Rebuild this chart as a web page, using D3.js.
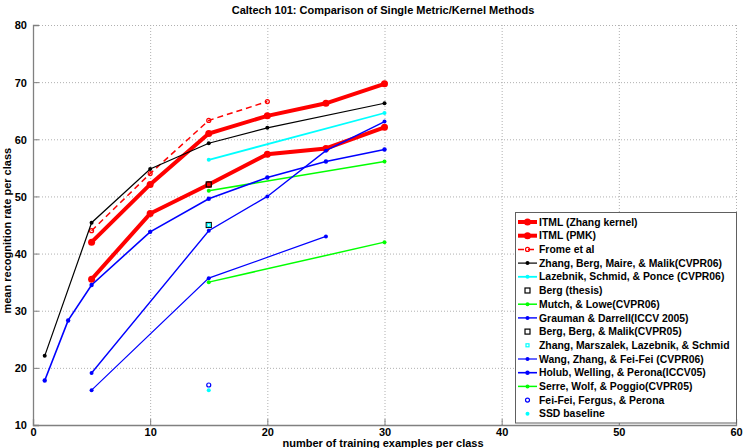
<!DOCTYPE html>
<html>
<head>
<meta charset="utf-8">
<script src="https://cdn.jsdelivr.net/npm/d3@7"></script>
<style>
  body { margin: 0; background: #fff; }
  text { font-family: "Liberation Sans", Arial, sans-serif; font-weight: bold; }
</style>
</head>
<body>
<div id="app"></div>
<script>
// data
let xTicks = [0, 10, 20, 30, 40, 50, 60]
let yTicks = [10, 20, 30, 40, 50, 60, 70, 80]

let itmlZhangX = [5, 10, 15, 20, 25, 30]
let itmlZhangY = [42, 52.1, 61, 64.1, 66.3, 69.7]
let itmlPmkX = [5, 10, 15, 20, 25, 30]
let itmlPmkY = [35.5, 47, 52.1, 57.4, 58.4, 62.1]
let fromeX = [5, 10, 15, 20]
let fromeY = [44, 54, 63.3, 66.6]
let zhangBergX = [1, 5, 10, 15, 20, 30]
let zhangBergY = [22.1, 45.4, 54.8, 59.3, 62.0, 66.3]
let lazebnikX = [15, 30]
let lazebnikY = [56.4, 64.6]
let bergThesisX = [15]
let bergThesisY = [45]
let mutchX = [15, 30]
let mutchY = [51, 56.1]
let graumanX = [5, 15, 20, 25, 30]
let graumanY = [19.1, 44, 50, 58, 63.1]
let bergBergX = [15]
let bergBergY = [52.1]
let zhangMarsX = [15]
let zhangMarsY = [45]
let wangX = [5, 15, 25]
let wangY = [16.1, 35.7, 43]
let holubX = [1, 3, 5, 10, 15, 20, 25, 30]
let holubY = [17.8, 28.3, 34.5, 43.8, 49.6, 53.3, 56.1, 58.2]
let serreX = [15, 30]
let serreY = [35, 42]
let feifeiX = [15]
let feifeiY = [17]
let ssdX = [15]
let ssdY = [16.1]

let series = [
  {name: "ITML (Zhang kernel)", x: itmlZhangX, y: itmlZhangY, color: "#ff0000", w: 4, marker: "circle", r: 3.5},
  {name: "ITML (PMK)", x: itmlPmkX, y: itmlPmkY, color: "#ff0000", w: 4, marker: "circle", r: 3.5},
  {name: "Frome et al", x: fromeX, y: fromeY, color: "#ff0000", w: 1.5, dash: "6,4", marker: "ocircle", r: 2},
  {name: "Zhang, Berg, Maire, & Malik(CVPR06)", x: zhangBergX, y: zhangBergY, color: "#000000", w: 1.2, marker: "dot", r: 2},
  {name: "Lazebnik, Schmid, & Ponce (CVPR06)", x: lazebnikX, y: lazebnikY, color: "#00ffff", w: 1.8, marker: "dot", r: 2},
  {name: "Berg (thesis)", x: bergThesisX, y: bergThesisY, color: "#000000", w: 0, marker: "square", r: 2.5},
  {name: "Mutch, & Lowe(CVPR06)", x: mutchX, y: mutchY, color: "#00ff00", w: 1.5, marker: "dot", r: 2},
  {name: "Grauman & Darrell(ICCV 2005)", x: graumanX, y: graumanY, color: "#0000ff", w: 1.4, marker: "dot", r: 2},
  {name: "Berg, Berg, & Malik(CVPR05)", x: bergBergX, y: bergBergY, color: "#000000", w: 0, marker: "square", r: 2.5},
  {name: "Zhang, Marszalek, Lazebnik, & Schmid", x: zhangMarsX, y: zhangMarsY, color: "#00ffff", w: 0, marker: "square", r: 1.5},
  {name: "Wang, Zhang, & Fei-Fei (CVPR06)", x: wangX, y: wangY, color: "#0000ff", w: 1.2, marker: "dot", r: 2},
  {name: "Holub, Welling, & Perona(ICCV05)", x: holubX, y: holubY, color: "#0000ff", w: 1.6, marker: "dot", r: 2.2},
  {name: "Serre, Wolf, & Poggio(CVPR05)", x: serreX, y: serreY, color: "#00ff00", w: 1.5, marker: "dot", r: 2},
  {name: "Fei-Fei, Fergus, & Perona", x: feifeiX, y: feifeiY, color: "#0000ff", w: 0, marker: "ocircle", r: 2},
  {name: "SSD baseline", x: ssdX, y: ssdY, color: "#00ffff", w: 0, marker: "dot", r: 2}
]

let width = 743, height = 448
let margin = {left: 33, right: 7, top: 25, bottom: 23}
let svg = d3.select("#app").append("svg")
    .attr("width", width)
    .attr("height", height)

let x = d3.scaleLinear().domain([0, 60]).range([margin.left, width - margin.right])
let y = d3.scaleLinear().domain([10, 80]).range([height - margin.bottom, margin.top])

// grid
let grid = svg.append("g").attr("stroke", "#b0b0b0").attr("stroke-dasharray", "1,2").attr("stroke-width", 1)
grid.selectAll(".gx").data(xTicks.slice(1)).enter().append("line")
    .attr("x1", d => x(d) + 0.5).attr("x2", d => x(d) + 0.5)
    .attr("y1", y(10)).attr("y2", y(80))
grid.selectAll(".gy").data(yTicks.slice(1)).enter().append("line")
    .attr("y1", d => y(d) + 0.5).attr("y2", d => y(d) + 0.5)
    .attr("x1", x(0)).attr("x2", x(60))

// axes
let xAxis = svg.append("g")
    .attr("transform", `translate(0,${y(10)})`)
    .call(d3.axisBottom(x).tickValues(xTicks).tickSize(-6).tickPadding(3))
let yAxis = svg.append("g")
    .attr("transform", `translate(${x(0)},0)`)
    .call(d3.axisLeft(y).tickValues(yTicks).tickSize(-6).tickPadding(6))
svg.selectAll(".domain").attr("stroke", "#808080").attr("stroke-width", 1.3)
svg.selectAll(".tick line").attr("stroke", "#808080")
svg.selectAll(".tick text").attr("font-size", 11).attr("fill", "#000")
    .attr("font-family", "'Liberation Sans', Arial, sans-serif").attr("font-weight", "bold")
yAxis.selectAll(".tick text").attr("dy", "0.35em")

// title and labels
svg.append("text").attr("x", 383).attr("y", 14).attr("text-anchor", "middle")
    .attr("font-size", 11).text("Caltech 101: Comparison of Single Metric/Kernel Methods")
svg.append("text").attr("x", 383).attr("y", 447).attr("text-anchor", "middle")
    .attr("font-size", 11).text("number of training examples per class")
svg.append("text").attr("transform", `translate(11,${y(44)}) rotate(-90)`)
    .attr("text-anchor", "middle").attr("font-size", 11).text("mean recognition rate per class")

// marks
function drawMarker(g, s, cx, cy) {
  if (s.marker === "square") {
    g.append("rect").attr("x", cx - s.r).attr("y", cy - s.r).attr("width", 2 * s.r).attr("height", 2 * s.r)
        .attr("fill", "none").attr("stroke", s.color).attr("stroke-width", 1.2)
  } else if (s.marker === "ocircle") {
    g.append("circle").attr("cx", cx).attr("cy", cy).attr("r", s.r)
        .attr("fill", "none").attr("stroke", s.color).attr("stroke-width", 1.2)
  } else {
    g.append("circle").attr("cx", cx).attr("cy", cy).attr("r", s.r).attr("fill", s.color)
  }
}

let line = d3.line().x(d => x(d[0])).y(d => y(d[1]))
let plot = svg.append("g")
series.forEach(s => {
  let pts = s.x.map((v, i) => [v, s.y[i]])
  let g = plot.append("g")
  if (s.w > 0 && pts.length > 1) {
    g.append("path").datum(pts).attr("d", line)
        .attr("fill", "none").attr("stroke", s.color).attr("stroke-width", s.w)
        .attr("stroke-dasharray", s.dash || null)
  }
  pts.forEach(p => drawMarker(g, s, x(p[0]), y(p[1])))
})

// legend
let lx = 515, ly = 212, lw = 221, rowH = 13.7
let legend = svg.append("g")
legend.append("rect").attr("x", lx + 0.5).attr("y", ly + 0.5).attr("width", lw).attr("height", rowH * series.length + 5)
    .attr("fill", "#fff").attr("stroke", "#606060").attr("stroke-width", 1)
series.forEach((s, i) => {
  let cy = ly + 10 + i * rowH
  let g = legend.append("g")
  if (s.w > 0) {
    g.append("line").attr("x1", lx + 3).attr("x2", lx + 22).attr("y1", cy).attr("y2", cy)
        .attr("stroke", s.color).attr("stroke-width", s.w).attr("stroke-dasharray", s.dash || null)
  }
  drawMarker(g, s, lx + 12.5, cy)
  g.append("text").attr("x", lx + 24).attr("y", cy).attr("dy", "0.35em")
      .attr("font-size", 10.4).text(s.name)
})
</script>
</body>
</html>
